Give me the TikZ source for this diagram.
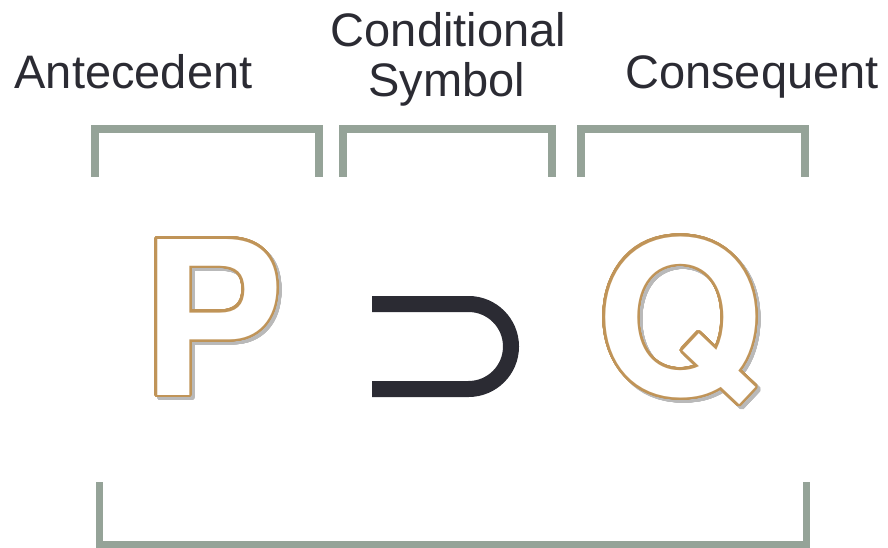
\documentclass[tikz,border=0pt]{standalone}
\usepackage{fontspec}
\setmainfont{Liberation Sans}
\newfontfamily\letterfont{TeX Gyre Heros}
\usepackage{contour}
\contourlength{2.6pt}
\contournumber{48}

\definecolor{textdark}{RGB}{43,43,51}
\definecolor{bracketgray}{RGB}{149,163,152}
\definecolor{lettertan}{RGB}{192,148,88}
\definecolor{shadowgray}{RGB}{185,185,185}

\begin{document}
\begin{tikzpicture}[x=1pt,y=-1pt,line cap=butt,line join=miter,
    toptext/.style={text=textdark,font=\fontsize{47}{50}\selectfont,inner sep=0pt,anchor=base},
    bracket/.style={draw=bracketgray,line width=8pt},
    bigletter/.style={font=\letterfont\bfseries\fontsize{214}{214}\selectfont,inner sep=0pt,anchor=base}]
        \useasboundingbox (0,0) rectangle (888,548);

        % Etiquetas superiores
        \node[toptext] (ante) at (133.5,89) {Antecedent};
        \node[toptext] (cond) at (448.5,47) {Conditional};
        \node[toptext] (symb) at (447,97) {Symbol};
        \node[toptext] (cons) at (752,89) {Consequent};

        % Corchetes superiores
        \draw[bracket] (95,177) -- (95,129) -- (319,129) -- (319,177);
        \draw[bracket] (343,177) -- (343,129) -- (552,129) -- (552,177);
        \draw[bracket] (581,177) -- (581,129) -- (805,129) -- (805,177);

        % Corchete inferior
        \draw[bracket,line width=7pt] (99,482) -- (99,544) -- (806,544) -- (806,482);

        % Antecedente P con sombra
        \node[bigletter,text=shadowgray] (Pshadow) at (215.5,398) {\contour{shadowgray}{P}};
        \node[bigletter,text=white] (P) at (212.5,395) {\contour{lettertan}{P}};

        % Condicional
        \coordinate (S) at (468.5,304);
        \draw[textdark,line width=16pt] (372,304) -- (S)
            arc[start angle=-90,end angle=90,radius=42.5] -- (372,389);

        % Consecuente Q con sombra
        \node[bigletter,text=shadowgray] (Qshadow) at (682.5,398) {\contour{shadowgray}{Q}};
        \node[bigletter,text=white] (Q) at (679.5,395) {\contour{lettertan}{Q}};
    \end{tikzpicture}
\end{document}
